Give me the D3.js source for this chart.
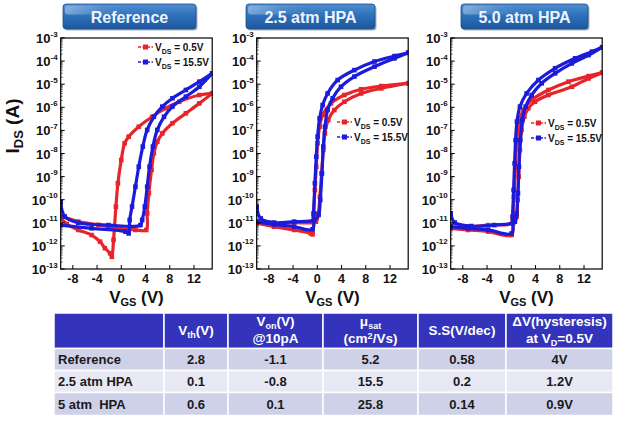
<!DOCTYPE html>
<html><head><meta charset="utf-8">
<script src="https://cdn.jsdelivr.net/npm/d3@7"></script>
<style>
body{margin:0;background:#fff}
svg{display:block;font-family:Arial,"Liberation Sans",sans-serif;font-weight:bold}
</style>
</head><body><svg id="c" width="621" height="422"></svg>
<script>
// ---------------- data ----------------
const panelTitles = ["Reference", "2.5 atm HPA", "5.0 atm HPA"];
const xTicks = [-8, -4, 0, 4, 8, 12];
const yExponents = [-3, -4, -5, -6, -7, -8, -9, -10, -11, -12, -13];
const legendLabels = ["0.5V", "15.5V"];
const seriesColors = ["#e8232a", "#1b1bdc"];

// [VGS (V), log10(IDS / A)]
const refRedFwd = [[-10,-10.8],[-9,-11.05],[-7.1,-11.31],[-4.9,-11.53],[-3.5,-11.82],[-2.7,-12.1],[-1.85,-12.32],[-1.56,-12.47],[-1.28,-11.74],[-0.89,-10.3],[-0.56,-9.29],[-0.01,-8.28],[0.55,-7.56],[1.22,-7.27],[2.88,-6.84],[5.1,-6.41],[7.33,-6.04],[9.55,-5.76],[12.88,-5.47],[15,-5.4]];
const refRedRev = [[15,-5.4],[12.88,-5.83],[10.66,-6.26],[8.44,-6.69],[6.77,-7.13],[5.94,-7.49],[5.38,-7.99],[4.99,-8.71],[4.55,-9.72],[4.27,-10.59],[4.11,-11.31],[2.33,-11.31],[-0.45,-11.24],[-3.78,-11.09],[-7.12,-10.95],[-10,-10.7]];
const refBlueFwd = [[-10,-11.1],[-4.9,-11.24],[0.66,-11.38],[1.22,-11.46],[1.38,-10.88],[1.77,-10.3],[2.33,-9.44],[2.88,-8.57],[3.55,-7.7],[4.27,-6.98],[5.38,-6.41],[6.77,-5.97],[8.44,-5.61],[10.66,-5.25],[12.88,-4.89],[15,-4.53]];
const refBlueRev = [[15,-4.53],[12.88,-5.11],[10.66,-5.54],[8.44,-5.97],[7.05,-6.41],[5.94,-6.98],[5.22,-7.7],[4.66,-8.57],[4.27,-9.44],[3.88,-10.3],[3.44,-10.88],[3.16,-11.1],[-2.12,-11.1],[-7.12,-11.0],[-9.34,-10.73],[-10,-10.1]];

const hpa25RedFwd = [[-10,-11.02],[-7.14,-11.17],[-3.82,-11.31],[-1.06,-11.46],[-0.78,-11.5],[-0.62,-10.73],[-0.4,-9.58],[-0.17,-8.57],[0.05,-7.56],[0.38,-6.84],[0.88,-6.33],[2.26,-5.83],[4.47,-5.47],[7.23,-5.22],[10.54,-5.08],[15,-4.96]];
const hpa25RedRev = [[15,-4.96],[10.54,-5.18],[7.23,-5.4],[4.47,-5.76],[2.81,-6.12],[1.81,-6.55],[1.26,-7.13],[0.99,-7.85],[0.71,-8.86],[0.43,-9.87],[0.16,-10.59],[-0.23,-10.95],[-3.82,-10.99],[-7.14,-11.02],[-10,-10.95]];
const hpa25BlueFwd = [[-10,-10.95],[-7.14,-11.07],[-3.82,-11.17],[-0.78,-11.28],[-0.62,-10.59],[-0.4,-9.29],[-0.17,-8.14],[0.05,-7.27],[0.38,-6.48],[0.88,-5.9],[1.7,-5.4],[3.36,-4.82],[6.12,-4.39],[9.44,-4.02],[12.75,-3.78],[15,-3.64]];
const hpa25BlueRev = [[15,-3.64],[12.75,-3.88],[9.44,-4.24],[6.12,-4.67],[3.91,-5.11],[2.53,-5.61],[1.7,-6.12],[1.26,-6.84],[0.99,-7.7],[0.77,-8.86],[0.49,-10.01],[0.21,-10.66],[-0.5,-10.88],[-3.82,-10.95],[-7.14,-10.99],[-9.34,-10.81],[-10,-10.3]];

const hpa50RedFwd = [[-10,-11.24],[-7.14,-11.31],[-3.82,-11.38],[0.05,-11.53],[0.21,-10.88],[0.43,-9.87],[0.66,-8.71],[0.88,-7.56],[1.26,-6.69],[1.98,-6.12],[3.36,-5.68],[6.12,-5.25],[9.44,-4.89],[12.75,-4.65],[15,-4.5]];
const hpa50RedRev = [[15,-4.5],[12.75,-4.75],[9.99,-5.11],[6.12,-5.47],[3.91,-5.76],[2.81,-6.04],[2.15,-6.41],[1.7,-6.98],[1.43,-7.85],[1.21,-9.0],[1.04,-10.01],[0.88,-10.73],[0.32,-11.02],[-3.82,-11.1],[-7.14,-11.17],[-10,-11.17]];
const hpa50BlueFwd = [[-10,-11.17],[-7.14,-11.24],[-3.82,-11.31],[0.05,-11.46],[0.21,-10.73],[0.38,-9.58],[0.54,-8.43],[0.71,-7.42],[0.93,-6.62],[1.43,-5.97],[2.53,-5.4],[4.47,-4.82],[7.23,-4.31],[10.54,-3.88],[13.3,-3.59],[15,-3.4]];
const hpa50BlueRev = [[15,-3.4],[12.75,-3.74],[9.99,-4.1],[7.23,-4.53],[5.02,-4.96],[3.36,-5.47],[2.37,-5.97],[1.82,-6.55],[1.48,-7.42],[1.26,-8.57],[1.1,-9.72],[0.88,-10.59],[0.6,-10.95],[-2.8,-11.1],[-6.6,-11.14],[-9.34,-10.99],[-10,-10.59]];

// table
const rowLabels = ["Reference", "2.5 atm HPA", "5 atm  HPA"];
const vthValues = ["2.8", "0.1", "0.6"];
const vonValues = ["-1.1", "-0.8", "0.1"];
const muValues = ["5.2", "15.5", "25.8"];
const ssValues = ["0.58", "0.2", "0.14"];
const dvValues = ["4V", "1.2V", "0.9V"];

// ---------------- build ----------------
const panels = [
  {title: panelTitles[0], series: [refRedFwd, refRedRev, refBlueFwd, refBlueRev]},
  {title: panelTitles[1], series: [hpa25RedFwd, hpa25RedRev, hpa25BlueFwd, hpa25BlueRev]},
  {title: panelTitles[2], series: [hpa50RedFwd, hpa50RedRev, hpa50BlueFwd, hpa50BlueRev]}
];
const layout = [
  {left: 60.7, hdr: [63, 196], leg: [138, 47]},
  {left: 256.7, hdr: [246, 375], leg: [337, 122]},
  {left: 450.7, hdr: [461, 588], leg: [531, 123]}
];
const plotW = 151.5, plotTop = 38, plotBottom = 269;

const svg = d3.select("#c");
const defs = svg.append("defs");
const grad = defs.append("linearGradient").attr("id", "hdr").attr("x1", 0).attr("y1", 0).attr("x2", 0).attr("y2", 1);
grad.append("stop").attr("offset", "0%").attr("stop-color", "#4f8ed0");
grad.append("stop").attr("offset", "50%").attr("stop-color", "#2c6fb8");
grad.append("stop").attr("offset", "100%").attr("stop-color", "#1d579c");
const gloss = defs.append("linearGradient").attr("id", "gloss").attr("x1", 0).attr("y1", 0).attr("x2", 1).attr("y2", 0);
gloss.append("stop").attr("offset", "0%").attr("stop-color", "#fff").attr("stop-opacity", 0.35);
gloss.append("stop").attr("offset", "60%").attr("stop-color", "#fff").attr("stop-opacity", 0.08);
gloss.append("stop").attr("offset", "100%").attr("stop-color", "#fff").attr("stop-opacity", 0);

const yScale = d3.scaleLog().domain([1e-13, 1e-3]).range([plotBottom, plotTop]);

panels.forEach((p, i) => {
  const L = layout[i];
  const x = d3.scaleLinear().domain([-10, 15]).range([L.left, L.left + plotW]);
  const gp = svg.append("g");

  // header button
  const bw = L.hdr[1] - L.hdr[0];
  gp.append("rect").attr("x", L.hdr[0] + 1.5).attr("y", 5.5).attr("width", bw).attr("height", 25)
    .attr("rx", 3).attr("fill", "#aab4c0");
  gp.append("rect").attr("x", L.hdr[0]).attr("y", 4).attr("width", bw).attr("height", 25)
    .attr("rx", 3).attr("fill", "url(#hdr)").attr("stroke", "#1d4f8a").attr("stroke-width", 0.8);
  gp.append("rect").attr("x", L.hdr[0] + 2).attr("y", 5.5).attr("width", bw * 0.45).attr("height", 9)
    .attr("rx", 3).attr("fill", "url(#gloss)");
  gp.append("text").attr("x", (L.hdr[0] + L.hdr[1]) / 2).attr("y", 22.5).attr("text-anchor", "middle")
    .attr("fill", "#eef4ff").attr("font-size", 16).text(p.title);

  // clip
  const cid = "clip" + i;
  defs.append("clipPath").attr("id", cid).append("rect")
    .attr("x", L.left).attr("y", plotTop).attr("width", plotW).attr("height", plotBottom - plotTop);

  // curves
  const line = d3.line().x(d => x(d[0])).y(d => yScale(Math.pow(10, d[1]))).curve(d3.curveCatmullRom.alpha(0.5));
  const gc = gp.append("g").attr("clip-path", `url(#${cid})`);
  p.series.forEach((s, k) => {
    const col = seriesColors[k < 2 ? 0 : 1];
    gc.append("path").attr("d", line(s)).attr("fill", "none").attr("stroke", col).attr("stroke-width", 3.2);
    gc.selectAll(null).data(s).join("rect")
      .attr("x", d => x(d[0]) - 2.3).attr("y", d => yScale(Math.pow(10, d[1])) - 2.3)
      .attr("width", 4.6).attr("height", 4.6).attr("fill", col);
  });

  // frame
  gp.append("rect").attr("x", L.left).attr("y", plotTop).attr("width", plotW).attr("height", plotBottom - plotTop)
    .attr("fill", "none").attr("stroke", "#000").attr("stroke-width", 1.2);

  // y ticks
  yExponents.forEach(e => {
    const yy = yScale(Math.pow(10, e));
    gp.append("line").attr("x1", L.left).attr("x2", L.left + 4).attr("y1", yy).attr("y2", yy).attr("stroke", "#000");
    if (e > -13) {
      for (let m = 2; m < 10; m++) {
        const ym = yScale(m * Math.pow(10, e - 1));
        gp.append("line").attr("x1", L.left).attr("x2", L.left + 2).attr("y1", ym).attr("y2", ym)
          .attr("stroke", "#000").attr("stroke-width", 0.6);
      }
    }
    const t = gp.append("text").attr("x", L.left - 3).attr("y", yy + 5).attr("text-anchor", "end")
      .attr("font-size", 13).attr("fill", "#111");
    t.append("tspan").text("10");
    t.append("tspan").attr("dy", -6.5).attr("font-size", 8).text(String(e));
  });

  // x ticks
  xTicks.forEach(v => {
    const xx = x(v);
    gp.append("line").attr("x1", xx).attr("x2", xx).attr("y1", plotBottom).attr("y2", plotBottom - 4).attr("stroke", "#000");
    gp.append("text").attr("x", xx).attr("y", 283).attr("text-anchor", "middle").attr("font-size", 12.5)
      .attr("fill", "#111").text(v);
  });

  // x title
  const xt = gp.append("text").attr("x", L.left + plotW / 2).attr("y", 303).attr("text-anchor", "middle")
    .attr("font-size", 17).attr("fill", "#111");
  xt.append("tspan").text("V");
  xt.append("tspan").attr("font-size", 11).attr("dy", 3).text("GS");
  xt.append("tspan").attr("dy", -3).text(" (V)");

  // legend
  legendLabels.forEach((lab, k) => {
    const lx = L.leg[0], ly = L.leg[1] + k * 15;
    const col = seriesColors[k];
    gp.append("line").attr("x1", lx).attr("x2", lx + 15).attr("y1", ly).attr("y2", ly)
      .attr("stroke", col).attr("stroke-width", 1.3).attr("stroke-dasharray", "3,1.5");
    gp.append("rect").attr("x", lx + 5).attr("y", ly - 2.5).attr("width", 5).attr("height", 5).attr("fill", col);
    const lt = gp.append("text").attr("x", lx + 17).attr("y", ly + 3.5).attr("font-size", 10).attr("fill", "#111");
    lt.append("tspan").text("V");
    lt.append("tspan").attr("font-size", 7).attr("dy", 3).text("DS");
    lt.append("tspan").attr("dy", -3).text(" = " + lab);
  });
});

// y title
const yt = svg.append("text").attr("transform", "translate(19,126) rotate(-90)").attr("text-anchor", "middle")
  .attr("font-size", 19).attr("fill", "#111");
yt.append("tspan").text("I");
yt.append("tspan").attr("font-size", 13).attr("dy", 4).text("DS");
yt.append("tspan").attr("dy", -4).text(" (A)");

// ---------------- table ----------------
const colX = [54, 164, 228, 323, 418, 506, 613];
const rowY = [313, 348.5, 370.5, 392.5, 415.5];
const tbl = svg.append("g");
const headerDefs = [
  [],
  [[["V"], ["th", "sub"], ["(V)"]]],
  [[["V"], ["on", "sub"], ["(V)"]], [["@10pA"]]],
  [[["μ"], ["sat", "sub"]], [["(cm"], ["2", "sup"], ["/Vs)"]]],
  [[["S.S(V/dec)"]]],
  [[["ΔV(hysteresis)"]], [["at V"], ["D", "sub"], ["=0.5V"]]]
];
for (let c = 0; c < 6; c++) {
  tbl.append("rect").attr("x", colX[c]).attr("y", rowY[0]).attr("width", colX[c + 1] - colX[c])
    .attr("height", rowY[1] - rowY[0]).attr("fill", "#3333bb").attr("stroke", "#fff").attr("stroke-width", 1.5);
  const lines = headerDefs[c];
  const cx = (colX[c] + colX[c + 1]) / 2;
  lines.forEach((ln, li) => {
    const baseY = lines.length === 1 ? 335 : (li === 0 ? 326 : 343);
    const t = tbl.append("text").attr("x", cx).attr("y", baseY).attr("text-anchor", "middle")
      .attr("font-size", 13.5).attr("fill", "#fff");
    let shift = 0;
    ln.forEach(seg => {
      const ts = t.append("tspan").text(seg[0]);
      let target = 0;
      if (seg[1] === "sub") { ts.attr("font-size", 9); target = 2.5; }
      if (seg[1] === "sup") { ts.attr("font-size", 9); target = -4.5; }
      if (target - shift !== 0) ts.attr("dy", target - shift);
      shift = target;
    });
  });
}
const cols = [rowLabels, vthValues, vonValues, muValues, ssValues, dvValues];
const rowFill = ["#cfd1e8", "#e7e8f4", "#cfd1e8"];
for (let r = 0; r < 3; r++) {
  for (let c = 0; c < 6; c++) {
    tbl.append("rect").attr("x", colX[c]).attr("y", rowY[r + 1]).attr("width", colX[c + 1] - colX[c])
      .attr("height", rowY[r + 2] - rowY[r + 1]).attr("fill", rowFill[r]).attr("stroke", "#fff").attr("stroke-width", 1.5);
    const cy = (rowY[r + 1] + rowY[r + 2]) / 2 + 4.5;
    const t = tbl.append("text").attr("y", cy).attr("font-size", 13).attr("fill", "#1a1a1a")
      .style("white-space", "pre").text(cols[c][r]);
    if (c === 0) t.attr("x", colX[0] + 4);
    else t.attr("x", (colX[c] + colX[c + 1]) / 2).attr("text-anchor", "middle");
  }
}
</script>
</body></html>
